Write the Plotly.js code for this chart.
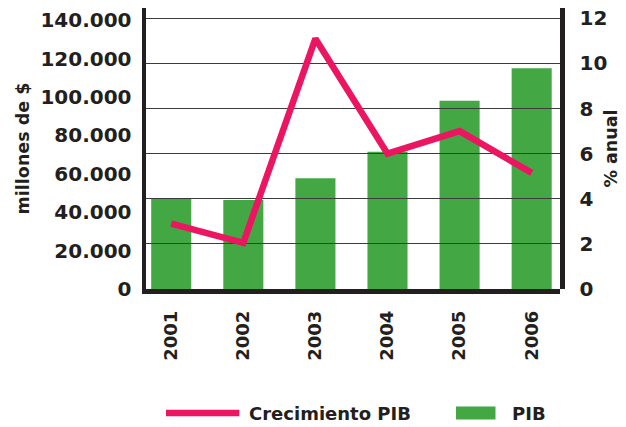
<!DOCTYPE html>
<html>
<head>
<meta charset="utf-8">
<script src="https://cdn.plot.ly/plotly-3.0.1.min.js"></script>
<style>html,body{margin:0;padding:0;background:#fff;}#chart{width:626px;height:427px;}</style>
</head>
<body>
<div id="chart"></div>
<script>
// Data
var years = ['2001', '2002', '2003', '2004', '2005', '2006'];
var pib = [47200, 46300, 57600, 71500, 98000, 114900];          // millones de $
var crecimiento = [2.9, 2.05, 11.1, 6.0, 7.0, 5.15];             // % anual
var leftTicks = [0, 20000, 40000, 60000, 80000, 100000, 120000, 140000];
var leftTickText = ['0', '20.000', '40.000', '60.000', '80.000', '100.000', '120.000', '140.000'];
var rightTicks = [0, 2, 4, 6, 8, 10, 12];
var seriesNames = ['Crecimiento PIB', 'PIB'];

var dark = '#231f20';
var green = '#43a843';
var pink = '#ec1561';
var FONT = 'DejaVu Sans';

var traces = [
  {
    type: 'scatter', mode: 'lines', name: seriesNames[0],
    x: years, y: crecimiento, xaxis: 'x2', yaxis: 'y2',
    line: {color: pink, width: 6.5},
    hoverinfo: 'skip'
  },
  {
    type: 'bar', name: seriesNames[1],
    x: years, y: pib, xaxis: 'x', yaxis: 'y',
    marker: {color: green, line: {width: 0}},
    hoverinfo: 'skip'
  }
];

// Legend (drawn as key swatches + labels below the plot)
var legendFont = {family: FONT, size: 18, color: dark, weight: 'bold'};
var shapes = [
  {type: 'line', xref: 'paper', yref: 'paper', x0: 0.0483, x1: 0.2254, y0: -0.4413, y1: -0.4413,
   line: {color: pink, width: 6.5}},
  {type: 'rect', xref: 'paper', yref: 'paper', x0: 0.7488, x1: 0.8442, y0: -0.4644, y1: -0.4181,
   fillcolor: green, line: {width: 0}}
];
var annotations = [
  {xref: 'paper', yref: 'paper', x: 0.244, y: -0.4413, xanchor: 'left', yanchor: 'middle',
   text: seriesNames[0], showarrow: false, font: legendFont},
  {xref: 'paper', yref: 'paper', x: 0.879, y: -0.4413, xanchor: 'left', yanchor: 'middle',
   text: seriesNames[1], showarrow: false, font: legendFont}
];

var xRange = [-0.35, 5.393];
var layout = {
  width: 626, height: 427,
  margin: {l: 146, r: 66, t: 8, b: 138},
  paper_bgcolor: '#ffffff', plot_bgcolor: 'rgba(0,0,0,0)',
  font: {family: FONT, color: dark, weight: 'bold'},
  bargap: 0.444,
  showlegend: false,
  shapes: shapes,
  annotations: annotations,
  xaxis: {
    type: 'category', domain: [0, 1], range: xRange, anchor: 'y',
    showgrid: false, zeroline: false, showline: true, linewidth: 4.5, linecolor: dark,
    ticks: '', tickangle: -90, ticklabelstandoff: 10,
    tickfont: {family: FONT, size: 18, color: dark, weight: 'bold'}
  },
  xaxis2: {
    type: 'category', domain: [0, 1], range: xRange, anchor: 'y2',
    visible: false, showgrid: false, zeroline: false
  },
  yaxis: {
    domain: [0, 1], range: [0, 146300], anchor: 'x', side: 'left',
    tickvals: leftTicks, ticktext: leftTickText,
    showgrid: false, zeroline: false, showline: true, linewidth: 4.5, linecolor: dark,
    ticks: '', ticklabelstandoff: 6,
    tickfont: {family: FONT, size: 20, color: dark, weight: 'bold'},
    title: {text: 'millones de $', standoff: 8, font: {family: FONT, size: 17.5, color: dark, weight: 'bold'}}
  },
  yaxis2: {
    domain: [0, 1], range: [0, 12.46], anchor: 'x2', side: 'right',
    tickvals: rightTicks,
    showgrid: true, gridcolor: '#3c3c3c', gridwidth: 1,
    zeroline: false, showline: true, linewidth: 4.5, linecolor: dark,
    ticks: '', ticklabelstandoff: 11,
    tickfont: {family: FONT, size: 20, color: dark, weight: 'bold'},
    title: {text: '% anual', standoff: 0, font: {family: FONT, size: 17.5, color: dark, weight: 'bold'}}
  }
};

Plotly.newPlot('chart', traces, layout, {staticPlot: true, displayModeBar: false});
</script>
</body>
</html>
